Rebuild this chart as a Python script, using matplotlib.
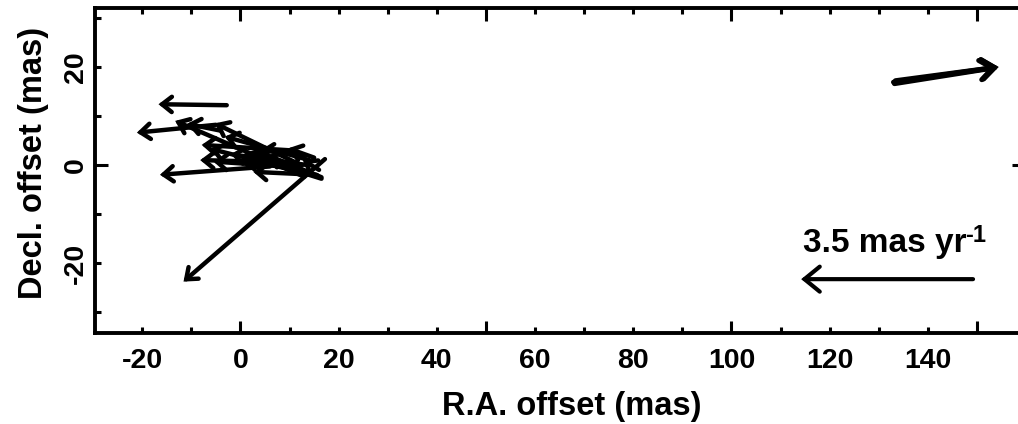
import matplotlib
matplotlib.use('Agg')
import matplotlib.pyplot as plt
from matplotlib.patches import FancyArrowPatch
from matplotlib.ticker import MultipleLocator

# maser spots near the origin: position (mas) and proper motion (mas/yr)
ra_offset  = [-2.8, 17.2, -5.0, 12.5, 13.0, -4.0, 6.0, 10.0, 11.0, 12.0, 13.5, 14.0, 15.5, 15.0, 16.0, 16.5,
              16.5, 14.5, 13.0, 11.0, 15.8]
dec_offset = [12.2, 1.2, 8.2, -0.1, -2.4, 7.0, -0.3, 3.0, 0.5, -0.5, 0.0, 1.0, -2.0, 1.5, -1.0, -2.5,
              -2.8, -1.8, 2.0, -1.5, -2.2]
pm_ra      = [-1.39, -2.88, -1.61, -1.77, -2.63, -0.69, -2.24, -1.79, -1.92, -1.75, -1.55, -1.72, -1.29, -0.53, -0.33, -1.10,
              -1.60, -1.40, -0.90, -0.80, -2.20]
pm_dec     = [0.02, -2.50, -0.16, 0.86, 1.14, 0.14, -0.17, 0.11, 0.05, 0.12, 0.22, 0.48, 0.06, 0.19, 0.20, 0.45,
              0.50, 0.30, 0.10, 0.45, 0.55]

# spots of the eastern feature
east_ra      = [133.0, 133.4, 133.2]
east_dec     = [16.9, 17.2, 16.6]
east_pm_ra   = [2.14, 2.10, 2.08]
east_pm_dec  = [0.31, 0.28, 0.33]

# reference arrow
ref_ra, ref_dec = 149.2, -23.3
ref_pm = 3.5
ref_label = '3.5 mas yr'

mas_per_pmunit = 10.0

x_ticklabels = [-20, 0, 20, 40, 60, 80, 100, 120, 140]
y_ticklabels = [-20, 0, 20]

plt.rcParams['font.family'] = ['Liberation Sans', 'DejaVu Sans']
plt.rcParams['font.weight'] = 'bold'
plt.rcParams['axes.labelweight'] = 'bold'
plt.rcParams['axes.unicode_minus'] = False


def draw_arrow(ax, x, y, vx, vy, hl, hw, lw=3.2):
    style = f'->, head_length={hl}, head_width={hw}'
    arr = FancyArrowPatch((x, y), (x + vx * mas_per_pmunit, y + vy * mas_per_pmunit),
                          arrowstyle=style, mutation_scale=1, lw=lw, color='black',
                          shrinkA=0, shrinkB=0, capstyle='round', joinstyle='miter')
    ax.add_patch(arr)


fig = plt.figure(figsize=(10.18, 4.24), dpi=100)
ax = fig.add_axes([95 / 1018, 91 / 424, 928.6 / 1018, 325 / 424])
ax.set_xlim(-29.63, 159.5)
ax.set_ylim(-34.29, 32.04)

for s in ax.spines.values():
    s.set_linewidth(2.8)

ax.xaxis.set_major_locator(MultipleLocator(50))
ax.xaxis.set_minor_locator(MultipleLocator(10))
ax.yaxis.set_major_locator(MultipleLocator(50))
ax.yaxis.set_minor_locator(MultipleLocator(10))
ax.tick_params(which='both', direction='in', top=True, right=True,
               labelbottom=False, labelleft=False, width=2.2)
ax.tick_params(which='major', length=9)
ax.tick_params(which='minor', length=4)

# tick labels live on secondary axes (labels every 20, marks every 10/50)
sx = ax.secondary_xaxis('bottom')
sx.set_xticks(x_ticklabels)
sx.tick_params(length=0, labelsize=20.5, pad=10.5)
sx.spines['bottom'].set_visible(False)

sy = ax.secondary_yaxis('left')
sy.set_yticks(y_ticklabels)
sy.tick_params(length=0, labelsize=20.5, pad=4.3)
sy.spines['left'].set_visible(False)
for lab in sy.get_yticklabels():
    lab.set_rotation(90)
    lab.set_va('center')

ax.set_xlabel('R.A. offset (mas)', fontsize=23.5)
ax.xaxis.set_label_coords(0.5137, -0.1785)
ax.set_ylabel('Decl. offset (mas)', fontsize=23.5)
ax.yaxis.set_label_coords(-0.0495, 0.5246)

for x, y, vx, vy in zip(ra_offset, dec_offset, pm_ra, pm_dec):
    draw_arrow(ax, x, y, vx, vy, hl=7, hw=5.5)

for x, y, vx, vy in zip(east_ra, east_dec, east_pm_ra, east_pm_dec):
    draw_arrow(ax, x, y, vx, vy, hl=9, hw=7, lw=3.6)

draw_arrow(ax, ref_ra, ref_dec, -ref_pm, 0.0, hl=11, hw=9, lw=3.0)
t = ax.text(114.6, -17.8, ref_label, fontsize=24, va='baseline', ha='left')
ax.annotate('-1', xy=(1, 0), xycoords=t, xytext=(-1, 12.3),
            textcoords='offset points', fontsize=17, va='baseline', ha='left')

fig.savefig('out.png', dpi=100)
